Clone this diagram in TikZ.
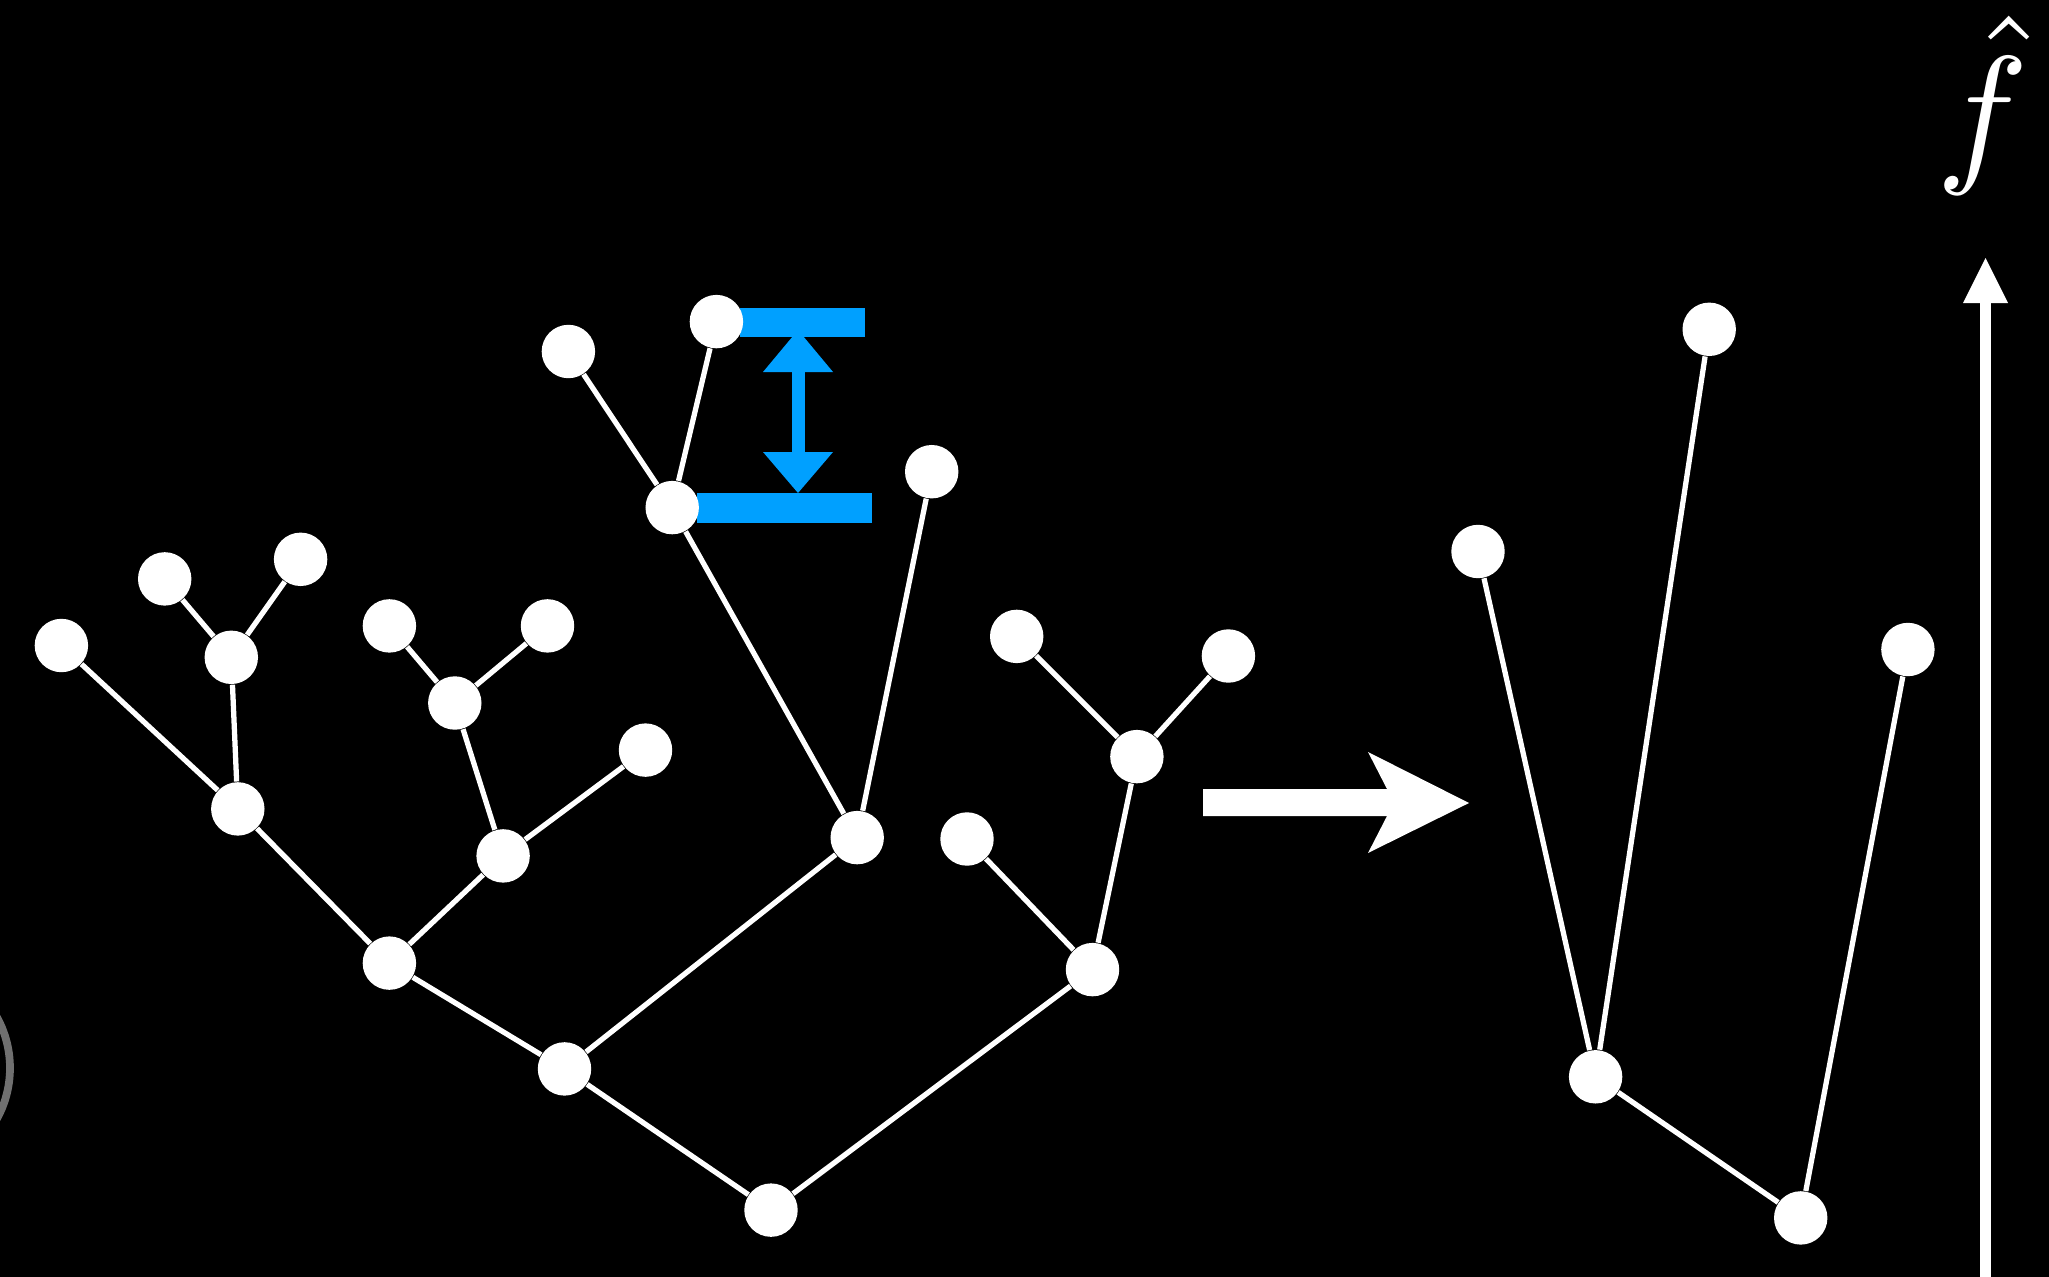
\documentclass[tikz,border=0pt]{standalone}
\usepackage{graphicx}
\definecolor{skyblue}{RGB}{0,160,255}
\definecolor{ringgray}{RGB}{112,112,112}
\tikzset{
  vert/.style={circle,fill=white,draw=none,minimum size=0.534cm,inner sep=0pt},
  edge/.style={draw=white,line width=1.5pt},
}
\begin{document}
\begin{tikzpicture}[x=0.01cm,y=-0.01cm]
\useasboundingbox (0,0) rectangle (2049,1276);
\fill[black] (-20,-20) rectangle (2069,1296);
% gray ring partly visible at left
\draw[ringgray,line width=2.2pt] (-95,1068) circle[radius=105];
% blue height marker
\begin{scope}[fill=skyblue]
\fill (740,308) rectangle (865,337);
\fill (697,493) rectangle (872,523);
\fill (763,372) -- (798,330) -- (833,372) -- cycle;
\fill (792,370) rectangle (805,454);
\fill (763,452) -- (798,493) -- (833,452) -- cycle;
\end{scope}
% left tree nodes
\node[vert] (n1) at (61.4,645.5) {};
\node[vert] (n2) at (164.7,578.9) {};
\node[vert] (n3) at (300.6,559.3) {};
\node[vert] (n4) at (231.3,657.3) {};
\node[vert] (n5) at (237.8,808.9) {};
\node[vert] (n6) at (389.4,625.9) {};
\node[vert] (n7) at (547.5,625.9) {};
\node[vert] (n8) at (454.8,703.0) {};
\node[vert] (n9) at (645.5,750.1) {};
\node[vert] (n10) at (503.1,855.9) {};
\node[vert] (n11) at (389.4,963.1) {};
\node[vert] (n12) at (564.5,1068.9) {};
\node[vert] (n13) at (568.4,351.5) {};
\node[vert] (n14) at (716.4,321.6) {};
\node[vert] (n15) at (672.2,507.6) {};
\node[vert] (n16) at (931.7,471.7) {};
\node[vert] (n17) at (857.2,837.6) {};
\node[vert] (n18) at (1016.7,636.4) {};
\node[vert] (n19) at (1228.4,656.0) {};
\node[vert] (n20) at (1136.9,756.6) {};
\node[vert] (n21) at (967.0,839.0) {};
\node[vert] (n22) at (1092.5,969.6) {};
\node[vert] (n23) at (771.0,1210.1) {};
% right tree nodes
\node[vert] (m1) at (1478.0,551.5) {};
\node[vert] (m2) at (1709.2,329.3) {};
\node[vert] (m3) at (1907.9,649.5) {};
\node[vert] (m4) at (1595.6,1076.8) {};
\node[vert] (m5) at (1800.7,1217.9) {};
% edges
\foreach \a/\b in {n1/n5,n2/n4,n3/n4,n4/n5,n5/n11,n6/n8,n7/n8,n8/n10,n9/n10,n10/n11,n11/n12,n13/n15,n14/n15,n15/n17,n16/n17,n17/n12,n12/n23,n18/n20,n19/n20,n20/n22,n21/n22,n22/n23,m1/m4,m2/m4,m4/m5,m3/m5}
  \draw[edge] (\a) -- (\b);
% big arrow between trees
\fill[white] (1203,789) -- (1387,789) -- (1368,752) -- (1469,803) -- (1368,853) -- (1387,816) -- (1203,816) -- cycle;
% vertical axis arrow
\fill[white] (1980,303) rectangle (1991,1296);
\fill[white] (1963,303) -- (1985.5,258) -- (2008,303) -- cycle;
\node[text=white,inner sep=0pt] (fhat) at (1983,105) {\scalebox{4.4}{$\hat{f}$}};
\end{tikzpicture}
\end{document}
